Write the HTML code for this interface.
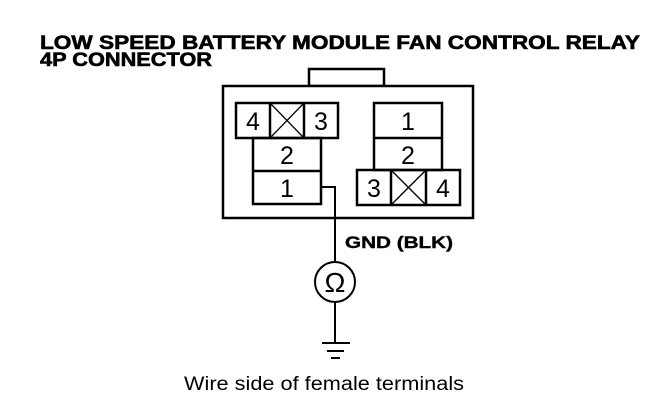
<!DOCTYPE html>
<html><head><style>html,body{margin:0;padding:0;background:#fff}svg{display:block}</style></head>
<body>
<svg width="672" height="418" viewBox="0 0 672 418" xmlns="http://www.w3.org/2000/svg" font-family="Liberation Sans, Arial, sans-serif">
<g font-weight="bold" font-size="19" fill="#000" stroke="#000" stroke-width="0.6">
<text x="40" y="49" textLength="600" lengthAdjust="spacingAndGlyphs">LOW SPEED BATTERY MODULE FAN CONTROL RELAY</text>
<text x="40" y="66" textLength="172" lengthAdjust="spacingAndGlyphs">4P CONNECTOR</text>
</g>
<g fill="none" stroke="#000" stroke-width="2.5">
<rect x="309" y="69" width="75" height="17"/>
<rect x="223" y="86" width="250" height="132" fill="#fff"/>
<rect x="236" y="103" width="102" height="35"/>
<line x1="270" y1="103" x2="270" y2="138"/><line x1="304" y1="103" x2="304" y2="138"/>
<rect x="253" y="138" width="68" height="66"/><line x1="253" y1="171" x2="321" y2="171"/>
<rect x="374" y="103" width="68" height="67"/><line x1="374" y1="138" x2="442" y2="138"/>
<rect x="357" y="170" width="103" height="35"/>
<line x1="391" y1="170" x2="391" y2="205"/><line x1="426" y1="170" x2="426" y2="205"/>
</g>
<g stroke="#000" stroke-width="1.3">
<line x1="270" y1="103" x2="304" y2="138"/><line x1="304" y1="103" x2="270" y2="138"/>
<line x1="391" y1="170" x2="426" y2="205"/><line x1="426" y1="170" x2="391" y2="205"/>
</g>
<g fill="none" stroke="#000" stroke-width="2">
<polyline points="321,187 335,187 335,262"/>
<circle cx="335" cy="282" r="20"/>
<line x1="335" y1="302" x2="335" y2="343"/>
<line x1="322" y1="343" x2="350" y2="343"/>
<line x1="327" y1="351" x2="344" y2="351"/>
<line x1="331" y1="358" x2="340" y2="358"/>
</g>
<g font-size="25" text-anchor="middle" fill="#000">
<text x="253" y="130">4</text><text x="321" y="130">3</text>
<text x="287" y="164">2</text><text x="287" y="197">1</text>
<text x="408" y="130">1</text><text x="408" y="164">2</text>
<text x="374" y="197">3</text><text x="443" y="197">4</text>
<text x="335" y="292" font-size="28">Ω</text>
</g>
<text x="345" y="248" font-weight="bold" font-size="17" fill="#000" stroke="#000" stroke-width="0.4" textLength="108" lengthAdjust="spacingAndGlyphs">GND (BLK)</text>
<text x="184" y="390" font-size="19" fill="#000" textLength="280" lengthAdjust="spacingAndGlyphs">Wire side of female terminals</text>
</svg>
</body></html>
